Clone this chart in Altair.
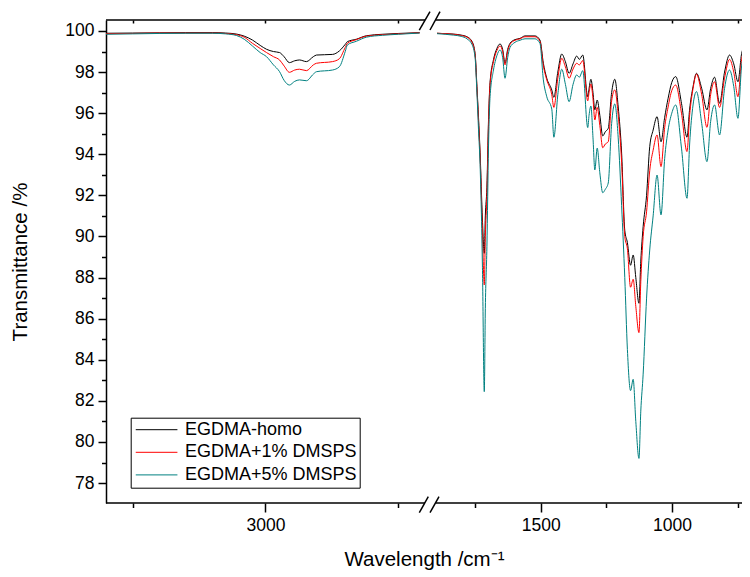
import altair as alt
import pandas as pd

series_names = ["EGDMA-homo", "EGDMA+1% DMSPS", "EGDMA+5% DMSPS"]
series_colors = ["#000000", "#ff0000", "#008080"]

# high-wavenumber segment (3600-2400 cm-1)
wn_high = [3600, 3500, 3400, 3300, 3200, 3150, 3109, 3080, 3049, 3020,
           2996, 2970, 2947, 2930, 2910, 2890, 2872, 2846, 2820, 2808,
           2748, 2722, 2700, 2692, 2658, 2620, 2560, 2500, 2420]
homo_high = [99.89, 99.90, 99.91, 99.92, 99.92, 99.90, 99.85, 99.75, 99.56, 99.30,
             99.11, 99.00, 98.95, 98.75, 98.46, 98.55, 98.59, 98.51, 98.75, 98.83,
             98.86, 99.03, 99.35, 99.48, 99.60, 99.77, 99.84, 99.88, 99.92]
d1_high = [99.87, 99.88, 99.90, 99.90, 99.90, 99.88, 99.82, 99.70, 99.40, 99.15,
           98.95, 98.75, 98.59, 98.30, 97.99, 98.10, 98.14, 98.07, 98.35, 98.43,
           98.51, 98.65, 99.20, 99.40, 99.58, 99.75, 99.82, 99.86, 99.91]
d5_high = [99.84, 99.86, 99.88, 99.89, 99.89, 99.86, 99.78, 99.60, 99.27, 98.95,
           98.75, 98.35, 98.02, 97.60, 97.37, 97.55, 97.62, 97.58, 97.90, 98.02,
           98.10, 98.26, 99.00, 99.32, 99.50, 99.70, 99.79, 99.84, 99.90]

# low-wavenumber segment (1900-700 cm-1)
wn_low = [1895, 1864, 1833, 1803, 1781, 1762, 1750, 1743, 1737, 1731,
          1722, 1715, 1711, 1705, 1699, 1693, 1680, 1667, 1655, 1645,
          1636, 1626, 1617, 1598, 1579, 1560, 1522, 1503, 1490, 1477,
          1458, 1450, 1435, 1420, 1406, 1392, 1377, 1363, 1353, 1340,
          1321, 1316, 1309, 1301, 1294, 1285, 1275, 1264, 1254, 1243,
          1230, 1218, 1205, 1192, 1180, 1170, 1158, 1148, 1138, 1126,
          1119, 1110, 1097, 1085, 1072, 1057, 1042, 1028, 1015, 1001,
          986, 964, 943, 933, 920, 907, 887, 867, 853, 838,
          819, 800, 781, 765, 749, 735, 724, 705]
homo_low = [99.89, 99.87, 99.85, 99.80, 99.72, 99.50, 98.90, 97.30, 95.80, 94.10,
            90.80, 89.18, 91.00, 92.40, 95.60, 97.50, 98.60, 99.15, 99.37, 99.10,
            98.43, 99.10, 99.40, 99.58, 99.64, 99.76, 99.76, 99.56, 98.43, 97.70,
            97.13, 96.77, 98.00, 98.88, 98.50, 97.94, 98.40, 98.78, 98.62, 98.83,
            96.80, 97.20, 97.65, 97.00, 96.16, 96.64, 95.90, 94.89, 95.10, 95.26,
            97.00, 97.65, 96.30, 94.06, 90.30, 89.70, 88.60, 89.10, 88.00, 86.75,
            88.80, 90.48, 92.00, 94.37, 95.18, 95.83, 94.61, 95.80, 96.72, 97.50,
            97.78, 96.48, 94.83, 96.20, 97.29, 97.94, 97.20, 96.16, 97.20, 97.75,
            96.48, 98.00, 98.83, 98.40, 97.53, 98.90, 99.24, 99.32]
d1_low = [99.89, 99.87, 99.84, 99.78, 99.70, 99.45, 98.85, 97.20, 95.60, 93.90,
          90.20, 87.64, 90.00, 92.00, 95.40, 97.40, 98.50, 99.05, 99.27, 99.00,
          98.35, 99.00, 99.35, 99.55, 99.62, 99.72, 99.72, 99.50, 98.30, 97.62,
          96.90, 96.28, 97.70, 98.67, 98.25, 97.70, 98.15, 98.43, 98.35, 98.56,
          96.60, 97.00, 97.42, 96.70, 95.67, 96.28, 95.40, 94.32, 94.50, 94.61,
          96.60, 97.13, 95.90, 93.60, 90.00, 89.40, 87.53, 87.92, 86.60, 85.32,
          87.80, 89.99, 91.20, 93.20, 94.20, 94.94, 93.40, 95.30, 96.30, 97.10,
          97.37, 96.00, 94.13, 95.90, 97.20, 97.90, 96.90, 95.31, 96.90, 97.53,
          96.28, 97.70, 98.62, 98.00, 96.80, 98.60, 99.08, 99.16]
d5_low = [99.87, 99.84, 99.80, 99.74, 99.62, 99.35, 98.70, 97.00, 95.20, 93.50,
          88.50, 82.45, 86.50, 89.50, 94.30, 96.80, 98.10, 98.80, 99.08, 98.70,
          97.70, 98.70, 99.20, 99.45, 99.55, 99.62, 99.62, 99.40, 97.62, 96.80,
          96.20, 94.83, 96.90, 98.14, 97.40, 96.56, 97.40, 97.86, 97.75, 98.07,
          95.30, 95.90, 96.35, 94.80, 93.24, 94.30, 93.10, 92.13, 92.30, 92.60,
          95.50, 96.45, 94.80, 91.50, 88.00, 84.50, 82.50, 83.05, 81.00, 79.20,
          81.50, 83.30, 87.00, 89.34, 91.00, 92.99, 91.05, 93.80, 95.18, 96.00,
          96.40, 94.30, 91.86, 94.50, 96.40, 97.05, 95.50, 93.64, 95.60, 96.40,
          94.94, 97.20, 98.10, 97.30, 95.75, 98.30, 98.83, 98.91]

x_major_ticks = [3000, 1500, 1000]
x_minor_ticks = [3500, 2500, 1750, 1250, 750]
y_major_ticks = list(range(78, 101, 2))
y_minor_ticks = list(range(79, 100, 2))


def pos(w):
    # broken axis: 3600-2400 on the left, 1900-700 on the right
    if w > 2000:
        return (3600 - w) * 0.2658
    return 329.7 + (1900 - w) * 0.2626


rows = []
for name, hi, lo in zip(series_names, [homo_high, d1_high, d5_high], [homo_low, d1_low, d5_low]):
    for w, t in zip(wn_high, hi):
        rows.append({"series": name, "seg": "high", "wn": w, "pos": pos(w), "T": t})
    for w, t in zip(wn_low, lo):
        rows.append({"series": name, "seg": "low", "wn": w, "pos": pos(w), "T": t})
df = pd.DataFrame(rows)

W = 636
YMIN, YMAX = 77.03, 100.535
xscale = alt.Scale(domain=[0, W], nice=False, zero=False)
yscale = alt.Scale(domain=[YMIN, YMAX], nice=False, zero=False)
FONT = "Liberation Sans"
label_expr = ("datum.value < 325 ? format(3600 - datum.value / 0.2658, '.0f') : "
              "format(1900 - (datum.value - 329.7) / 0.2626, '.0f')")

x_major_axis = alt.Axis(orient="bottom", values=[pos(v) for v in x_major_ticks], labelExpr=label_expr,
                        tickSize=9, tickWidth=1.5, tickColor="black", domain=False, grid=False,
                        labelFont=FONT, labelFontSize=17.5, labelColor="black", labelPadding=4,
                        title="Wavelength /cm⁻¹", titleFont=FONT, titleFontSize=20.5,
                        titleFontWeight="normal", titleColor="black", titlePadding=16)
x_minor_axis = alt.Axis(orient="bottom", values=[pos(v) for v in x_minor_ticks], labels=False,
                        tickSize=4.5, tickWidth=1.5, tickColor="black", domain=False, grid=False, title=None)
x_top_axis = alt.Axis(orient="bottom", offset=-483,
                      values=[pos(v) for v in x_major_ticks + x_minor_ticks], labels=False,
                      tickSize=3, tickWidth=1.5, tickColor="black", domain=False, grid=False, title=None)
y_major_axis = alt.Axis(orient="left", values=y_major_ticks, tickSize=8, tickWidth=1.5, tickColor="black",
                        domain=True, domainWidth=1.5, domainColor="black", grid=False,
                        labelFont=FONT, labelFontSize=17.5, labelColor="black", labelPadding=4,
                        title="Transmittance /%", titleFont=FONT, titleFontSize=20.5,
                        titleFontWeight="normal", titleColor="black", titlePadding=34)
y_minor_axis = alt.Axis(orient="left", values=y_minor_ticks, labels=False, tickSize=4.5, tickWidth=1.5,
                        tickColor="black", domain=False, grid=False, title=None)

base = alt.Chart(df)

lines = base.mark_line(strokeWidth=1, interpolate="monotone", clip=True).encode(
    x=alt.X("pos:Q", scale=xscale, axis=x_major_axis),
    y=alt.Y("T:Q", scale=yscale, axis=y_major_axis),
    color=alt.Color("series:N", scale=alt.Scale(domain=series_names, range=series_colors),
                    sort=series_names,
                    legend=alt.Legend(orient="none", legendX=24.7, legendY=397.7, title=None,
                                      strokeColor="black", fillColor="white", padding=3,
                                      symbolType="M-1,0H5", symbolSize=193, symbolStrokeWidth=1,
                                      labelFont=FONT, labelFontSize=18, labelColor="black",
                                      labelOffset=33.2, labelLimit=400, rowPadding=4.6)),
    detail="seg:N",
)

minor = base.mark_line(opacity=0).encode(
    x=alt.X("pos:Q", scale=xscale, axis=x_minor_axis),
    y=alt.Y("T:Q", scale=yscale, axis=y_minor_axis),
    detail="series:N",
)

top = base.mark_line(opacity=0).encode(
    x=alt.X("pos:Q", scale=xscale, axis=x_top_axis),
    y=alt.Y("T:Q", scale=yscale, axis=None),
    detail="series:N",
)

# axis lines with the break, and the "//" break marks
frame_x = [0, 330, 0, 330, 313.3, 324.0, 313.3, 324.0]
frame_x2 = [319, W, 319, W, 322.3, 333.0, 324.0, 334.0]
frame_y = [YMIN, YMIN, YMAX, YMAX, 76.558, 76.558, 100.048, 100.048]
frame_y2 = [YMIN, YMIN, YMAX, YMAX, 77.336, 77.336, 100.939, 100.939]
frame = alt.Chart(pd.DataFrame({"x": frame_x, "x2": frame_x2, "y": frame_y, "y2": frame_y2})).mark_rule(
    color="black", strokeWidth=1.5).encode(
    x=alt.X("x:Q", scale=xscale, axis=None),
    x2="x2:Q",
    y=alt.Y("y:Q", scale=yscale, axis=None),
    y2="y2:Q",
)

chart = alt.layer(lines, minor, top, frame).resolve_axis(
    x="independent", y="independent"
).properties(
    width=W, height=483,
    autosize=alt.AutoSizeParams(type="none"),
    padding={"left": 98, "top": 12, "right": 0, "bottom": 74},
).configure_view(stroke=None)

chart.save("out.html", embed_options={"renderer": "svg", "actions": False})
